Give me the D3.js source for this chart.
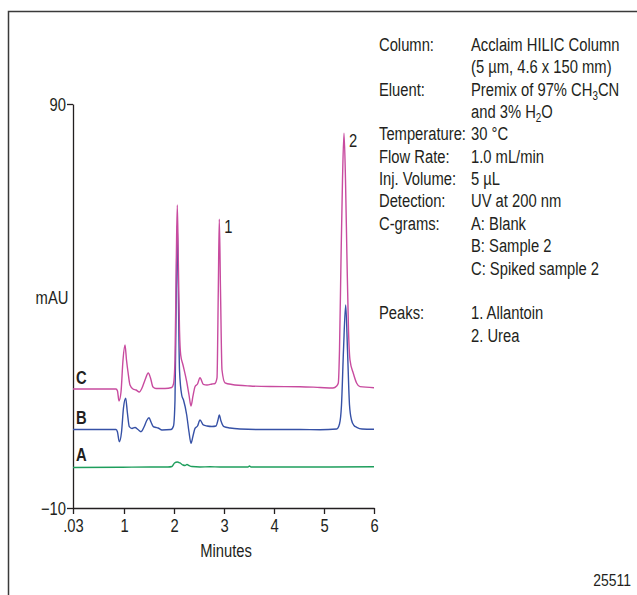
<!DOCTYPE html>
<html>
<head>
<meta charset="utf-8">
<script src="https://cdn.jsdelivr.net/npm/d3@7"></script>
<style>
  body { margin: 0; background: #fff; }
  text { font-family: "Liberation Sans", Arial, sans-serif; fill: #231f20; }
</style>
</head>
<body>
<div id="chart"></div>
<script>
// chromatogram traces, [minutes, mAU] as drawn (offset stacked)
var traceA = [[0.03,0.02],[0.924,0.07],[1.52,0.15],[1.88,0.15],[1.96,0.27],[2.01,1.14],[2.066,1.39],[2.12,1.14],
  [2.18,0.64],[2.22,0.52],[2.26,0.77],[2.30,0.52],[2.36,0.27],[2.52,0.15],[2.72,0.20],[2.92,0.15],[3.48,0.15],
  [3.51,0.40],[3.54,0.15],[4.52,0.15],[6.0,0.20]];

var traceB = [[0.03,9.43],[0.848,9.43],[0.876,8.81],[0.911,6.41],[0.953,8.81],[0.990,14.75],[1.034,17.16],[1.066,13.76],
  [1.106,10.13],[1.16,9.68],[1.22,9.93],[1.28,9.43],[1.34,8.89],[1.40,10.05],[1.45,11.53],[1.50,12.35],[1.54,11.29],
  [1.586,10.13],[1.64,9.93],[1.68,9.80],[1.76,9.31],[1.94,9.43],[1.99,10.30],[2.02,16.73],[2.046,43.96],[2.066,60.05],
  [2.086,43.96],[2.11,24.16],[2.154,17.97],[2.19,16.73],[2.254,13.02],[2.30,8.81],[2.34,6.02],[2.38,7.82],[2.42,9.73],
  [2.47,10.30],[2.52,11.78],[2.586,10.55],[2.66,10.30],[2.76,10.18],[2.84,10.30],[2.88,11.78],[2.906,13.02],[2.94,11.53],
  [3.00,10.13],[3.12,9.80],[3.32,9.56],[3.72,9.43],[4.52,9.43],[4.92,9.38],[5.254,9.56],[5.31,10.79],[5.35,15.5],
  [5.39,29.1],[5.434,40.25],[5.47,29.1],[5.51,15.5],[5.55,11.78],[5.60,10.42],[5.654,9.98],[5.76,9.56],[6.0,9.48]];

var traceC = [[0.03,19.46],[0.848,19.46],[0.876,18.97],[0.905,16.49],[0.943,18.72],[0.981,26.63],[1.02,30.35],[1.05,26.63],
  [1.08,23.66],[1.12,20.45],[1.18,19.46],[1.24,19.21],[1.306,18.72],[1.36,19.70],[1.42,21.68],[1.486,23.42],[1.53,22.18],
  [1.58,19.95],[1.64,19.58],[1.82,19.58],[1.954,19.83],[1.99,20.69],[2.02,26.63],[2.046,51.4],[2.066,65.0],[2.086,51.4],
  [2.11,34.06],[2.134,27.87],[2.18,25.4],[2.254,21.26],[2.30,17.97],[2.34,15.25],[2.38,17.73],[2.42,20.03],[2.47,20.69],
  [2.52,22.25],[2.586,20.62],[2.66,20.45],[2.76,20.69],[2.82,20.82],[2.86,22.18],[2.886,43.96],[2.906,61.5],[2.93,43.96],
  [2.96,24.16],[3.02,21.0],[3.16,20.57],[3.52,20.20],[3.92,20.07],[4.52,20.03],[4.92,19.83],[5.18,19.70],[5.254,20.20],
  [5.286,20.94],[5.31,29.1],[5.34,51.4],[5.37,71.2],[5.40,82.8],[5.43,71.2],[5.46,51.4],[5.49,34.06],[5.52,26.63],
  [5.586,23.34],[5.654,20.87],[5.72,20.03],[6.0,19.78]];

var traceNames = ["A", "B", "C"];
var traceColors = ["#1e9e5c", "#3651a6", "#c84b9f"];
var traceLabelY = [1.6, 10.7, 20.8]; // mAU of the bold letter's baseline

var xTicks = [0.03, 1, 2, 3, 4, 5, 6];
var xTickLabels = [".03", "1", "2", "3", "4", "5", "6"];
var yTicks = [-10, 90];

// peak numbers: [minutes, mAU, label]
var peakLabels = [[2.906, 61.5, "1"], [5.40, 82.8, "2"]];

var legendKeys = ["Column:", "", "Eluent:", "", "Temperature:", "Flow Rate:", "Inj. Volume:", "Detection:",
  "C-grams:", "", "", "", "Peaks:", ""];
var legendValues = ["Acclaim HILIC Column", "(5 µm, 4.6 x 150 mm)", "Premix of 97% CH|3|CN", "and 3% H|2|O",
  "30 °C", "1.0 mL/min", "5 µL", "UV at 200 nm", "A: Blank", "B: Sample 2", "C: Spiked sample 2", "",
  "1. Allantoin", "2. Urea"];

var width = 637, height = 595;
var narrow = 0.82; // squeeze text to mimic the condensed face

var svg = d3.select("#chart").append("svg")
  .attr("width", width)
  .attr("height", height);

// frame around the figure
svg.append("rect")
  .attr("x", 8.5).attr("y", 11.5)
  .attr("width", 700).attr("height", 700)
  .attr("fill", "none")
  .attr("stroke", "#3a3a3a")
  .attr("stroke-width", 1.5);

var x = d3.scaleLinear().domain([0.03, 1, 6]).range([73, 124, 374]);
var y = d3.scaleLinear().domain([-10, 90]).range([508, 104]);

var xAxis = d3.axisBottom(x)
  .tickValues(xTicks)
  .tickFormat(function(d, i) { return xTickLabels[i]; })
  .tickSize(6)
  .tickSizeOuter(0);

var yAxis = d3.axisLeft(y)
  .tickValues(yTicks)
  .tickFormat(function(d) { return d < 0 ? "\u2212" + Math.abs(d) : d; })
  .tickSize(6)
  .tickSizeOuter(0);

var gx = svg.append("g")
  .attr("transform", "translate(0," + y(-10) + ")")
  .call(xAxis);
var gy = svg.append("g")
  .attr("transform", "translate(" + x(0.03) + ",0)")
  .call(yAxis);

[gx, gy].forEach(function(g) {
  g.selectAll("path, line").attr("stroke", "#231f20").attr("stroke-width", 1.3);
  g.selectAll("text")
    .attr("font-family", null)
    .style("font-size", "18px")
    .attr("fill", "#231f20");
});
gx.selectAll("text").attr("dy", "0.95em").attr("y", 7);
gy.selectAll("text").attr("x", -7).attr("dy", "0.35em");

svg.append("text")
  .attr("x", 226).attr("y", 557)
  .attr("text-anchor", "middle")
  .style("font-size", "18px")
  .text("Minutes");

svg.append("text")
  .attr("x", 52).attr("y", 304)
  .attr("text-anchor", "middle")
  .style("font-size", "18px")
  .text("mAU");

var line = d3.line()
  .x(function(d) { return x(d[0]); })
  .y(function(d) { return y(d[1]); })
  .curve(d3.curveMonotoneX);

var traces = [traceA, traceB, traceC];

svg.selectAll(".trace")
  .data(traces)
  .enter().append("path")
  .attr("class", "trace")
  .attr("d", line)
  .attr("fill", "none")
  .attr("stroke", function(d, i) { return traceColors[i]; })
  .attr("stroke-width", 1.4)
  .attr("stroke-linejoin", "round");

svg.selectAll(".tlabel")
  .data(traceNames)
  .enter().append("text")
  .attr("class", "tlabel")
  .attr("x", 76)
  .attr("y", function(d, i) { return y(traceLabelY[i]); })
  .style("font-size", "18px")
  .style("font-weight", "bold")
  .text(function(d) { return d; });

svg.selectAll(".plabel")
  .data(peakLabels)
  .enter().append("text")
  .attr("class", "plabel")
  .attr("x", function(d) { return x(d[0]) + 5; })
  .attr("y", function(d) { return y(d[1]) + 14; })
  .style("font-size", "18px")
  .text(function(d) { return d[2]; });

// conditions block
var legend = svg.append("g").style("font-size", "18px");
legendKeys.forEach(function(k, i) {
  var yy = 51 + i * 22.35;
  if (k) legend.append("text").attr("x", 379).attr("y", yy).text(k);
  var parts = legendValues[i].split("|");
  if (!legendValues[i]) return;
  var t = legend.append("text").attr("x", 471).attr("y", yy);
  parts.forEach(function(p, j) {
    var ts = t.append("tspan").text(p);
    if (j % 2 == 1) {
      ts.style("font-size", "12px").attr("dy", 4);
    } else if (j > 0) {
      ts.attr("dy", -4);
    }
  });
});

svg.append("text")
  .attr("x", 631).attr("y", 586)
  .attr("text-anchor", "end")
  .style("font-size", "17px")
  .text("25511");

// condensed look: shrink every text run horizontally
svg.selectAll("text").each(function() {
  var w = this.getComputedTextLength();
  d3.select(this)
    .attr("textLength", w * narrow)
    .attr("lengthAdjust", "spacingAndGlyphs");
});
</script>
</body>
</html>
